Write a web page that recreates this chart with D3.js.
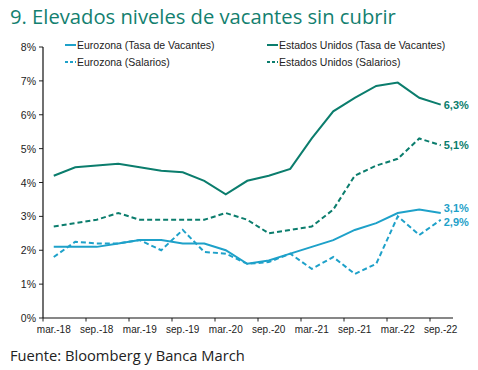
<!DOCTYPE html>
<html>
<head>
<meta charset="utf-8">
<script src="https://cdn.jsdelivr.net/npm/d3@7"></script>
<style>
  body { margin: 0; background: #fff; }
  svg { display: block; }
</style>
</head>
<body>
<div id="chart"></div>
<script>
// quarterly data, mar-18 .. sep-22
var periods = ["mar.-18","jun.-18","sep.-18","dic.-18","mar.-19","jun.-19","sep.-19","dic.-19",
  "mar.-20","jun.-20","sep.-20","dic.-20","mar.-21","jun.-21","sep.-21","dic.-21",
  "mar.-22","jun.-22","sep.-22"];
var euVacantes = [2.1,2.1,2.1,2.2,2.3,2.3,2.2,2.2,2.0,1.6,1.7,1.9,2.1,2.3,2.6,2.8,3.1,3.2,3.1];
var usVacantes = [4.2,4.45,4.5,4.55,4.45,4.35,4.3,4.05,3.65,4.05,4.2,4.4,5.3,6.1,6.5,6.85,6.95,6.5,6.3];
var euSalarios = [1.8,2.25,2.2,2.2,2.3,2.0,2.6,1.95,1.9,1.6,1.65,1.9,1.45,1.8,1.3,1.6,3.0,2.45,2.9];
var usSalarios = [2.7,2.8,2.9,3.1,2.9,2.9,2.9,2.9,3.1,2.9,2.5,2.6,2.7,3.2,4.2,4.5,4.7,5.3,5.1];
var yTicks = [0,1,2,3,4,5,6,7,8];
var endLabels = ["3,1%","6,3%","2,9%","5,1%"];

var teal = "#0b7d6d", blue = "#1ea1c9";
var W = 478, H = 370;
var svg = d3.select("#chart").append("svg").attr("width", W).attr("height", H);

svg.append("text")
  .attr("x", 10).attr("y", 24)
  .attr("font-family", "Open Sans")
  .attr("font-size", 20.2)
  .attr("fill", "#13806f")
  .text("9. Elevados niveles de vacantes sin cubrir");

svg.append("text")
  .attr("x", 10).attr("y", 361)
  .attr("font-family", "Open Sans")
  .attr("font-size", 14.7)
  .attr("fill", "#222")
  .text("Fuente: Bloomberg y Banca March");

var x = d3.scaleBand().domain(periods).range([43, 451.5]);
var y = d3.scaleLinear().domain([0, 8]).range([318, 47]);

// axes
var g = svg.append("g").attr("font-family", "Liberation Sans, Arial").attr("font-size", 10.5).attr("fill", "#222");
g.selectAll(".ytick").data(yTicks).enter().append("line")
  .attr("x1", 39).attr("x2", 43)
  .attr("y1", function(d) { return y(d); }).attr("y2", function(d) { return y(d); })
  .attr("stroke", "#222");
g.selectAll(".ylab").data(yTicks).enter().append("text")
  .attr("x", 36).attr("y", function(d) { return y(d) + 4; })
  .attr("text-anchor", "end")
  .text(function(d) { return d + "%"; });

var xTickCats = periods.filter(function(d, i) { return i % 2 == 0; });
g.selectAll(".xtick").data(xTickCats).enter().append("line")
  .attr("x1", function(d) { return x(d); }).attr("x2", function(d) { return x(d); })
  .attr("y1", 318).attr("y2", 321.5)
  .attr("stroke", "#222");
g.selectAll(".xlab").data(xTickCats).enter().append("text")
  .attr("x", function(d) { return x(d) + x.bandwidth() / 2; })
  .attr("y", 333)
  .attr("font-size", 10)
  .attr("text-anchor", "middle")
  .text(function(d) { return d; });

g.append("line").attr("x1", 43).attr("x2", 43).attr("y1", 47).attr("y2", 318).attr("stroke", "#111").attr("stroke-width", 1.2);
g.append("line").attr("x1", 43).attr("x2", 453).attr("y1", 318).attr("y2", 318).attr("stroke", "#111").attr("stroke-width", 1.2);

// series
var series = [
  { name: "Eurozona (Tasa de Vacantes)", values: euVacantes, color: blue, dash: null },
  { name: "Estados Unidos (Tasa de Vacantes)", values: usVacantes, color: teal, dash: null },
  { name: "Eurozona (Salarios)", values: euSalarios, color: blue, dash: "5,3" },
  { name: "Estados Unidos (Salarios)", values: usSalarios, color: teal, dash: "5,3" }
];
var line = d3.line()
  .x(function(d, i) { return x(periods[i]) + x.bandwidth() / 2; })
  .y(function(d) { return y(d); });

svg.selectAll(".series").data(series).enter().append("path")
  .attr("d", function(d) { return line(d.values); })
  .attr("fill", "none")
  .attr("stroke", function(d) { return d.color; })
  .attr("stroke-width", 2)
  .attr("stroke-dasharray", function(d) { return d.dash; });

// end labels
var last = periods.length - 1;
svg.selectAll(".endlab").data(series).enter().append("text")
  .attr("x", x(periods[last]) + x.bandwidth() / 2 + 3)
  .attr("y", function(d, i) {
    var v = d.values[last];
    if (i == 0) return y(v) - 1;
    if (i == 2) return y(v) + 6;
    return y(v) + 4;
  })
  .attr("font-family", "Liberation Sans, Arial")
  .attr("font-size", 11)
  .attr("font-weight", "bold")
  .attr("fill", function(d) { return d.color; })
  .text(function(d, i) { return endLabels[i]; });

// legend
var legPos = [[65, 45], [267, 45], [65, 62], [267, 62]];
var leg = svg.selectAll(".leg").data(series).enter().append("g")
  .attr("transform", function(d, i) { return "translate(" + legPos[i][0] + "," + legPos[i][1] + ")"; });
leg.append("line").attr("x1", 0).attr("x2", 11).attr("y1", 0).attr("y2", 0)
  .attr("stroke", function(d) { return d.color; })
  .attr("stroke-width", 2)
  .attr("stroke-dasharray", function(d) { return d.dash ? "3,2" : null; });
leg.append("text").attr("x", 12).attr("y", 4)
  .attr("font-family", "Liberation Sans, Arial")
  .attr("font-size", 10.5)
  .attr("fill", "#222")
  .text(function(d) { return d.name; });
</script>
</body>
</html>
